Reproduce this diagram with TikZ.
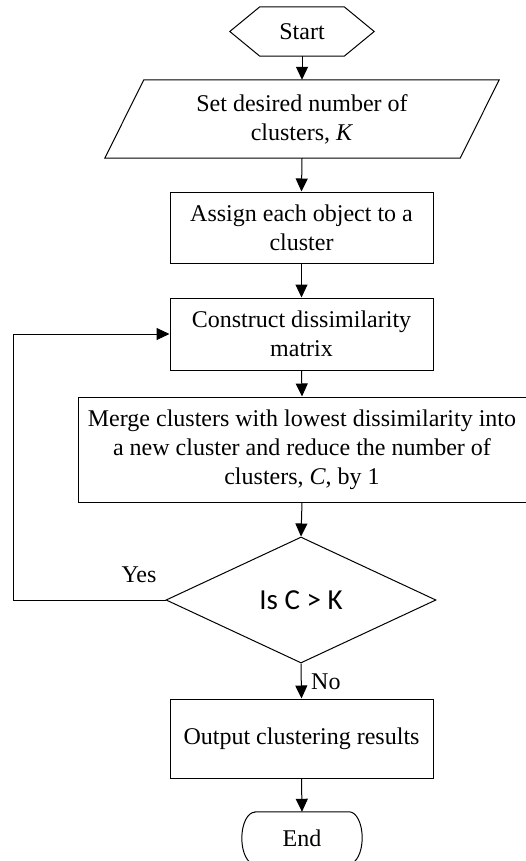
\documentclass[tikz,border=0pt]{standalone}
\usepackage{fontspec}
\setmainfont{Liberation Serif}
\newfontfamily\condfont{Carlito}
\usetikzlibrary{arrows.meta,shapes.geometric,calc}

\begin{document}
\begin{tikzpicture}[x=1pt,y=-1pt,
  every node/.style={font=\fontsize{24}{29}\selectfont, align=center, inner sep=0pt},
  outline/.style={line width=1pt},
  flowline/.style={line width=1pt, -{Triangle[length=13pt,width=12pt]}},
  procbox/.style={draw, line width=1pt, rectangle, minimum width=263pt},
  decision/.style={draw, line width=1pt, diamond, minimum width=270pt, minimum height=126pt,
                   font=\condfont\fontsize{29}{32}\selectfont},
  plain/.style={rectangle}
]
\useasboundingbox (0,0) rectangle (525,861);

% Start (hexagon outline drawn around a plain node)
\node[plain, minimum width=144pt, minimum height=49pt] (start) at (302,31.5) {Start};
\draw[outline] ($(start.north west)+(30,0)$) -- ($(start.north east)+(-30,0)$) -- (start.east)
  -- ($(start.south east)+(-30,0)$) -- ($(start.south west)+(30,0)$) -- (start.west) -- cycle;

% Input (parallelogram)
\node[plain, minimum width=394pt, minimum height=78pt] (para) at (302,119)
  {Set desired number of\\ clusters, \textit{K}};
\draw[outline] ($(para.north west)+(39,0)$) -- (para.north east)
  -- ($(para.south east)+(-39,0)$) -- (para.south west) -- cycle;

% Process boxes
\node[procbox, minimum height=71pt] (assign) at (301.5,227.5) {Assign each object to a\\ cluster};
\node[procbox, minimum height=72pt] (construct) at (301.5,334) {Construct dissimilarity\\ matrix};
\node[procbox, minimum width=448pt, minimum height=105pt] (merge) at (302,449.5)
  {Merge clusters with lowest dissimilarity into\\ a new cluster and reduce the number of\\ clusters, \textit{C}, by 1};

% Decision
\node[decision] (dec) at (301,600) {Is C > K};

% Output
\node[procbox, minimum height=79pt] (output) at (301.5,738.5) {Output clustering results};

% End (terminator with elliptical ends)
\node[plain, minimum width=120pt, minimum height=52pt] (end) at (302,838) {End};
\draw[outline] ($(end.north west)+(13,0)$) -- ($(end.north east)+(-13,0)$)
  arc[start angle=-90, end angle=90, x radius=13, y radius=26]
  -- ($(end.south west)+(13,0)$)
  arc[start angle=90, end angle=270, x radius=13, y radius=26] -- cycle;

% Connectors
\draw[flowline] (start.south) -- (para.north);
\draw[flowline] (para.south) -- (assign.north);
\draw[flowline] (assign.south) -- (construct.north);
\draw[flowline] (construct.south) -- (merge.north);
\draw[flowline] (merge.south) -- (dec.north);
\draw[flowline] (dec.south) -- (output.north);
\draw[flowline] (output.south) -- (end.north);

% Loop back when C > K
\coordinate (loopc) at (13,600);
\draw[flowline] (dec.west) -- (loopc) |- (construct.west);

% Branch labels
\node (yes) at (139,575) {Yes};
\node[anchor=west] (no) at (311,682) {No};
\end{tikzpicture}
\end{document}
